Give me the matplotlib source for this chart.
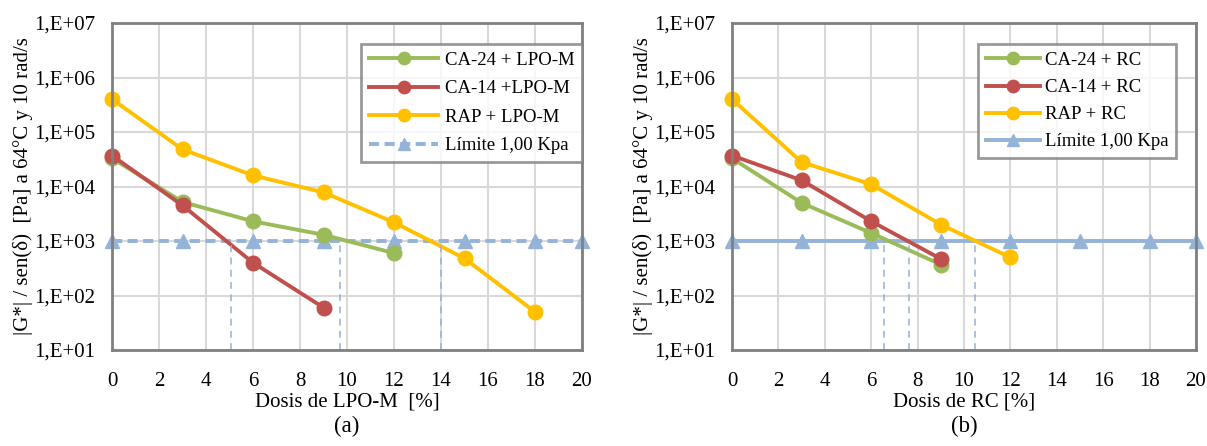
import math
import matplotlib.pyplot as plt
from matplotlib.ticker import FuncFormatter, FixedLocator

plt.rcParams['font.family'] = ['Liberation Serif', 'DejaVu Serif']

# panel (a): LPO-M
x_a = [0, 3, 6, 9, 12, 15, 18]
ca24_a = [3.3e4, 5.2e3, 2.3e3, 1.3e3, 600]
ca14_a = [3.7e4, 4.5e3, 400, 60]
rap_a = [4.0e5, 4.8e4, 1.6e4, 7.8e3, 2.2e3, 480, 50]
cross_a = [5.05, 9.7, 14.0]

# panel (b): RC
ca24_b = [3.3e4, 5.0e3, 1.4e3, 370]
ca14_b = [3.7e4, 1.3e4, 2.3e3, 470]
rap_b = [4.0e5, 2.8e4, 1.1e4, 2.0e3, 500]
cross_b = [6.55, 7.63, 10.46]

x_lim = [0, 3, 6, 9, 12, 15, 18, 20]
limit = 1000

green = '#9bbb59'
red = '#c0504d'
yellow = '#ffc000'
blue = '#95b3d7'

fig = plt.figure(figsize=(12.07, 4.46), dpi=100)
W, H = 1207, 446
ax1 = fig.add_axes([112 / W, 1 - 350 / H, 470 / W, 327 / H])
ax2 = fig.add_axes([732 / W, 1 - 350 / H, 464 / W, 327 / H])

fs = 15
lfs = 13.5


def fmt(v, pos):
    return '1,E+%02d' % int(round(math.log10(v)))


def setup(ax, xlabel, cap):
    ax.set_yscale('log')
    ax.set_ylim(10, 1e7)
    ax.set_xlim(0, 20)
    ax.yaxis.set_major_locator(FixedLocator([10 ** k for k in range(1, 8)]))
    ax.yaxis.set_minor_locator(FixedLocator([]))
    ax.yaxis.set_major_formatter(FuncFormatter(fmt))
    ax.set_xticks(range(0, 21, 2))
    ax.grid(True, color='#d9d9d9', lw=1.5)
    ax.set_axisbelow(True)
    for s in ax.spines.values():
        s.set_color('#808080')
        s.set_linewidth(2)
    ax.tick_params(axis='x', length=0, labelsize=fs, pad=16)
    ax.tick_params(axis='y', length=0, labelsize=fs, pad=12)
    ax.set_xlabel(xlabel, fontsize=fs, labelpad=1)
    ax.set_ylabel('|G*| / sen(δ)  [Pa] a 64°C y 10 rad/s', fontsize=fs, labelpad=1)
    bb = ax.get_position()
    fig.text((bb.x0 + bb.x1) / 2, 1 - 426 / H, cap, ha='center', va='center', fontsize=16.5)


ms = 10.5
lw = 2.8

setup(ax1, 'Dosis de LPO-M  [%]', '(a)')
ax1.plot(x_a[:len(ca24_a)], ca24_a, '-o', color=green, lw=lw, ms=ms, label='CA-24 + LPO-M', clip_on=False)
ax1.plot(x_a[:len(ca14_a)], ca14_a, '-o', color=red, lw=lw, ms=ms, label='CA-14 +LPO-M', clip_on=False)
ax1.plot(x_a, rap_a, '-o', color=yellow, lw=lw, ms=ms, label='RAP + LPO-M', clip_on=False)
ax1.plot(x_lim, [limit] * len(x_lim), '--^', color=blue, lw=lw, ms=10, dashes=(2.6, 1.4),
         label='Límite 1,00 Kpa', clip_on=False, zorder=1.5)
for c in cross_a:
    ax1.plot([c, c], [10, limit], '--', color=blue, lw=1.1, dashes=(4.5, 3.5))
leg = ax1.legend(loc='upper left', fontsize=lfs, frameon=True, fancybox=False,
                 edgecolor='#808080', handlelength=3.7, handletextpad=0.37, borderpad=0.4,
                 labelspacing=0.6, markerscale=0.85,
                 bbox_to_anchor=((352 - 112) / 470, (350 - 35) / 327))
leg.get_frame().set_linewidth(2)

setup(ax2, 'Dosis de RC [%]', '(b)')
ax2.plot(x_a[:len(ca24_b)], ca24_b, '-o', color=green, lw=lw, ms=ms, label='CA-24 + RC', clip_on=False)
ax2.plot(x_a[:len(ca14_b)], ca14_b, '-o', color=red, lw=lw, ms=ms, label='CA-14 + RC', clip_on=False)
ax2.plot(x_a[:len(rap_b)], rap_b, '-o', color=yellow, lw=lw, ms=ms, label='RAP + RC', clip_on=False)
ax2.plot(x_lim, [limit] * len(x_lim), '-^', color=blue, lw=lw, ms=10,
         label='Límite 1,00 Kpa', clip_on=False, zorder=1.5)
for c in cross_b:
    ax2.plot([c, c], [10, limit], '--', color=blue, lw=1.1, dashes=(4.5, 3.5))
leg = ax2.legend(loc='upper left', fontsize=lfs, frameon=True, fancybox=False,
                 edgecolor='#808080', handlelength=2.9, handletextpad=0.27, borderpad=0.4,
                 labelspacing=0.53, markerscale=0.85,
                 bbox_to_anchor=((969 - 732) / 464, (350 - 35) / 327))
leg.get_frame().set_linewidth(2)

fig.savefig('out.png', dpi=100)
